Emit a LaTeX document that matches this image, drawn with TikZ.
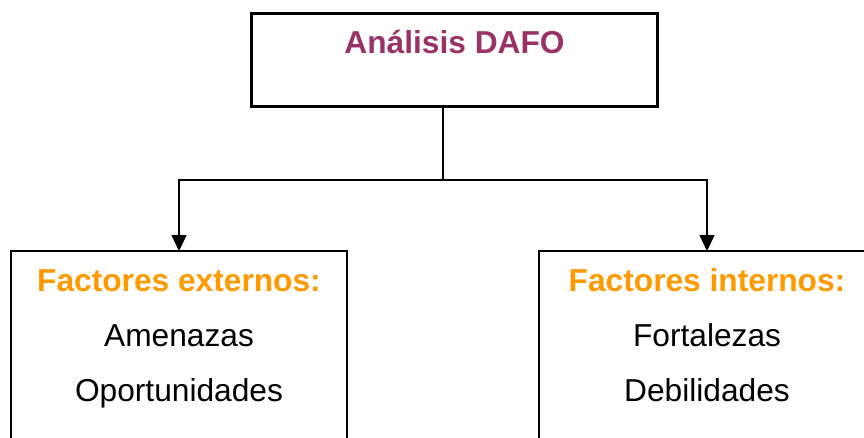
\documentclass[tikz,border=0pt]{standalone}
\usepackage{fontspec}
\setmainfont{Liberation Sans}
\usepackage{xcolor}
\usetikzlibrary{arrows.meta, positioning}
\definecolor{dafopurple}{HTML}{993366}
\definecolor{dafoorange}{HTML}{FF9900}
\tikzset{
    base/.style={draw=black, inner sep=0pt, outer sep=0pt, font=\fontsize{31.7}{55}\selectfont},
    title/.style={base, line width=3.3pt, minimum width=406pt, text height=40pt, text depth=53pt},
    block/.style={base, line width=1.3pt, minimum width=336pt, text height=40.7pt, text depth=190pt},
    line/.style={draw=black, line width=1.3pt, -{Triangle[length=16pt, width=15pt]}}
}
\begin{document}
\begin{tikzpicture}[x=1pt, y=-1pt]
    \useasboundingbox (0,0) rectangle (864,437);
    \clip (0,0) rectangle (864,437);
    \node [title, anchor=base] (DAFO) at (454.5,53.3) {\textcolor{dafopurple}{\bfseries Análisis DAFO}};
    \node [block, anchor=base] (Ext) at (179,291.7) {\begin{tabular}[t]{@{}c@{}}\textcolor{dafoorange}{\bfseries Factores externos:}\\ Amenazas\\ Oportunidades\end{tabular}};
    \node [block, right=192pt of Ext] (Int) {\begin{tabular}[t]{@{}c@{}}\textcolor{dafoorange}{\bfseries Factores internos:}\\ Fortalezas\\ Debilidades\end{tabular}};
    \coordinate (Fork) at (443,180);
    \draw [line width=1.3pt] (DAFO.south -| Fork) -- (Fork);
    \draw [line] (Fork) -| (Ext.north);
    \draw [line] (Fork) -| (Int.north);
\end{tikzpicture}
\end{document}
